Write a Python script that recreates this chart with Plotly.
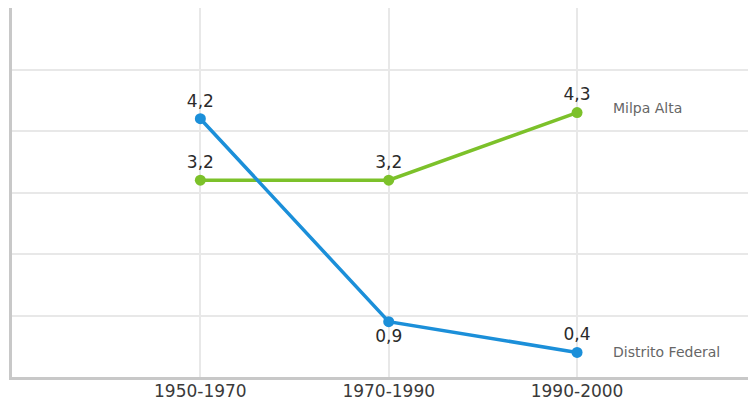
import plotly.graph_objects as go

categories = ["1950-1970", "1970-1990", "1990-2000"]
milpa_alta = [3.2, 3.2, 4.3]
distrito_federal = [4.2, 0.9, 0.4]
series_names = ["Milpa Alta", "Distrito Federal"]

green = "#7cc12a"
blue = "#1b8fd9"
FONT = "DejaVu Sans"

def fmt(v):
    return f"{v:.1f}".replace(".", ",")

x_idx = list(range(len(categories)))

fig = go.Figure()
fig.add_trace(go.Scatter(
    x=x_idx, y=milpa_alta, mode="lines+markers+text",
    line=dict(color=green, width=3.5), marker=dict(color=green, size=11),
    text=[fmt(v) for v in milpa_alta], textposition="top center",
    textfont=dict(family=FONT, size=17, color="#2a2a2a"),
    name=series_names[0], cliponaxis=False))
fig.add_trace(go.Scatter(
    x=x_idx, y=distrito_federal, mode="lines+markers+text",
    line=dict(color=blue, width=3.5), marker=dict(color=blue, size=11),
    text=[fmt(v) for v in distrito_federal],
    textposition=["top center", "bottom center", "top center"],
    textfont=dict(family=FONT, size=17, color="#2a2a2a"),
    name=series_names[1], cliponaxis=False))

fig.add_annotation(x=x_idx[-1], y=milpa_alta[-1], text=series_names[0],
                   xanchor="left", yanchor="middle", xshift=34, yshift=5,
                   showarrow=False, font=dict(family=FONT, size=14, color="#666666"))
fig.add_annotation(x=x_idx[-1], y=distrito_federal[-1], text=series_names[1],
                   xanchor="left", yanchor="middle", xshift=34, yshift=0,
                   showarrow=False, font=dict(family=FONT, size=14, color="#666666"))

fig.update_layout(
    width=748, height=396,
    margin=dict(l=4, r=0, t=0, b=27, autoexpand=False),
    paper_bgcolor="white", plot_bgcolor="white",
    showlegend=False,
    xaxis=dict(range=[-1, 2.95], tickvals=x_idx, ticktext=categories,
               showgrid=True, gridcolor="#e8e8e8", gridwidth=2,
               showline=True, linecolor="#c8c8c8", linewidth=3,
               zeroline=False, ticks="", ticklabelstandoff=-3,
               tickfont=dict(family=FONT, size=17, color="#3a3a3a")),
    yaxis=dict(range=[0, 6], dtick=1, showticklabels=False,
               showgrid=True, gridcolor="#e8e8e8", gridwidth=2,
               showline=True, linecolor="#c8c8c8", linewidth=3,
               zeroline=False, ticks=""),
)

fig.write_html("out.html")
